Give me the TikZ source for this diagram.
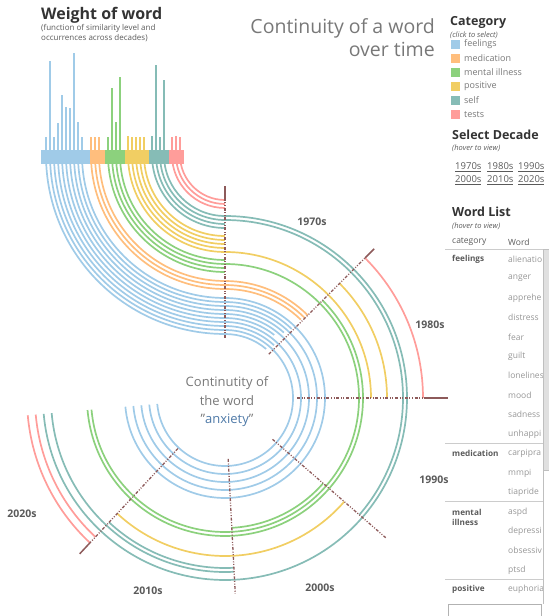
\documentclass[tikz,border=0pt]{standalone}
\usepackage{fontspec}
\setmainfont{Open Sans}
\usetikzlibrary{positioning}

\definecolor{feelc}{RGB}{160,203,232}
\definecolor{medc}{RGB}{255,190,125}
\definecolor{illc}{RGB}{140,209,125}
\definecolor{posc}{RGB}{241,206,99}
\definecolor{selfc}{RGB}{134,188,182}
\definecolor{testc}{RGB}{255,157,154}
\definecolor{decline}{RGB}{141,90,90}
\definecolor{anxc}{RGB}{78,121,167}
\definecolor{txtdark}{RGB}{51,51,51}
\definecolor{txtmid}{RGB}{90,90,90}
\definecolor{txtsoft}{RGB}{120,120,120}
\definecolor{txtfaint}{RGB}{150,150,150}

\begin{document}
\begin{tikzpicture}
	[x=1pt,y=1pt,
	feelline/.style={draw=feelc,line width=1.7pt},
	medline/.style={draw=medc,line width=1.7pt},
	illline/.style={draw=illc,line width=1.7pt},
	posline/.style={draw=posc,line width=1.7pt},
	selfline/.style={draw=selfc,line width=1.7pt},
	testline/.style={draw=testc,line width=1.7pt},
	boundary/.style={draw=decline,line width=1.3pt,dash pattern=on 3pt off 1.6pt on 1pt off 1.6pt on 1pt off 1.6pt},
	boundtip/.style={draw=decline,line width=1.5pt},
	decade/.style={font=\fontsize{10.5}{12}\selectfont\bfseries,text=txtmid},
	heading/.style={anchor=west,inner sep=0pt,font=\fontsize{12.5}{14}\selectfont\bfseries,text=txtdark},
	hint/.style={anchor=west,inner sep=0pt,font=\fontsize{7.5}{8}\selectfont\itshape,text=txtmid},
	legtext/.style={anchor=west,inner sep=0pt,font=\fontsize{9}{10}\selectfont,text=txtsoft},
	declink/.style={anchor=west,inner sep=0pt,font=\fontsize{9.5}{11}\selectfont,text=txtmid},
	cattext/.style={anchor=west,inner sep=0pt,font=\fontsize{8.2}{10}\selectfont\bfseries,text=txtmid},
	wordtext/.style={anchor=west,inner sep=0pt,font=\fontsize{8.5}{10}\selectfont,text=txtfaint},
	tabline/.style={draw=black!20,line width=0.8pt}]

	\useasboundingbox (0,0) rectangle (549,616);
	\coordinate (U) at (225,461);
	\coordinate (C) at (225,218);

	% word lines, bar end -> decades
	\foreach \x/\e in {46/50,50/-175,54/47,58/-175,62/52,66/-175,70/48,74/-175,78/46,82/-175}
		\draw[feelline] (\x,461) arc (180:270:{225-\x}) arc (90:\e:{18+\x});
	\foreach \x/\e in {91/46,95/45,99/45}
		\draw[medline] (\x,461) arc (180:270:{225-\x}) arc (90:\e:{18+\x});
	\foreach \x/\e in {108/90,112/90,116/-175,120/90}
		\draw[illline] (\x,461) arc (180:270:{225-\x}) arc (90:\e:{18+\x});
	\foreach \x/\e in {128/0,132/90,136/90,140/90,144/90}
		\draw[posline] (\x,461) arc (180:270:{225-\x}) arc (90:\e:{18+\x});
	\foreach \x/\e in {152/90,156/90,160/-41,164/-175}
		\draw[selfline] (\x,461) arc (180:270:{225-\x}) arc (90:\e:{18+\x});
	\foreach \x in {172,176,180}
		\draw[testline] (\x,461) arc (180:270:{225-\x});

	\draw[illline] (C) ++(45:138) arc (45:-175:138);
	\draw[illline] (C) ++(-41:130) arc (-41:-87:130);
	\draw[posline] (C) ++(45:162) arc (45:0:162);
	\draw[posline] (C) ++(-41:158) arc (-41:-133:158);
	\draw[selfline] (C) ++(-87:170) arc (-87:-133:170);
	\draw[selfline] (C) ++(-87:174) arc (-87:-175:174);
	\draw[testline] (C) ++(45:198) arc (45:0:198);
	\draw[testline] (C) ++(-133:190) arc (-133:-175:190);
	\draw[testline] (C) ++(-133:198) arc (-133:-175:198);

	% decade boundaries
	\foreach \a/\ri/\rs/\ro in {90/60/200/212,45/62/198/211,0/72/200/223,-41/63/214/214,-87/61/196/196,-133/69/198/213}{
		\draw[boundary] (C) ++(\a:\ri) -- ++(\a:{\rs-\ri});
		\draw[boundtip] (C) ++(\a:\rs) -- ++(\a:{\ro-\rs});
	}

	% weight bars
	\fill[feelc] (41,452) rectangle (90,466);
	\fill[medc] (90,452) rectangle (105,466);
	\fill[illc] (105,452) rectangle (125,466);
	\fill[posc] (125,452) rectangle (149,466);
	\fill[selfc] (149,452) rectangle (169,466);
	\fill[testc] (169,452) rectangle (184,466);
	\foreach \x/\t in {46/137,50/61,54/137,58/123,62/95,66/107,70/108,74/53,78/122,82/137}
		\fill[feelc] ({\x-1.3},466) rectangle ({\x+1.3},{616-\t});
	\foreach \x/\t in {91/137,95/137,99/137}
		\fill[medc] ({\x-1.3},466) rectangle ({\x+1.3},{616-\t});
	\foreach \x/\t in {108/137,112/88,116/122,120/77}
		\fill[illc] ({\x-1.3},466) rectangle ({\x+1.3},{616-\t});
	\foreach \x/\t in {128/136,132/137,136/137,140/137,144/137}
		\fill[posc] ({\x-1.3},466) rectangle ({\x+1.3},{616-\t});
	\foreach \x/\t in {152/136,156/65,160/137,164/80}
		\fill[selfc] ({\x-1.3},466) rectangle ({\x+1.3},{616-\t});
	\foreach \x/\t in {172/137,176/136,180/137}
		\fill[testc] ({\x-1.3},466) rectangle ({\x+1.3},{616-\t});

	% titles
	\node [heading,font=\fontsize{16}{18}\selectfont\bfseries] (wtitle) at (41,601) {Weight of word};
	\node [anchor=west,inner sep=0pt,align=left,font=\fontsize{8}{10}\selectfont,text=txtmid] (wsub) at (41,583) {(function of similarity level and\\occurrences across decades)};
	\node [anchor=east,inner sep=0pt,align=right,font=\fontsize{19.5}{23}\selectfont,text=txtsoft] (maintitle) at (435,578) {Continuity of a word\\over time};
	\node [inner sep=0pt,align=center,font=\fontsize{13}{18.5}\selectfont,text=txtsoft] (centre) at (227,214) {Continutity of\\the word\\”{\color{anxc}anxiety}”};

	% decade labels
	\node [decade] (l1970) at (312,394) {1970s};
	\node [decade] (l1980) at (430,291) {1980s};
	\node [decade] (l1990) at (434,136) {1990s};
	\node [decade] (l2000) at (320,28) {2000s};
	\node [decade] (l2010) at (148,25) {2010s};
	\node [decade] (l2020) at (22,102) {2020s};

	% category legend
	\node [heading] (cathead) at (450,594) {Category};
	\node [hint] (cathint) at (450,581) {(click to select)};
	\foreach \c/\t [count=\i] in {feelc/feelings,medc/medication,illc/mental illness,posc/positive,selfc/self,testc/tests}{
		\fill[\c] (451,{576-14*(\i-1)}) rectangle ++(9,-9);
		\node [legtext] (leg\i) at (464,{571.5-14*(\i-1)}) {\t};
	}

	% decade selector
	\node [heading] (dechead) at (452,481) {Select Decade};
	\node [hint] (dechint) at (452,468) {(hover to view)};
	\node [declink] (d1970) at (455,449) {\underline{1970s}};
	\node [declink] (d1980) at (487,449) {\underline{1980s}};
	\node [declink] (d1990) at (518,449) {\underline{1990s}};
	\node [declink] (d2000) at (455,436) {\underline{2000s}};
	\node [declink] (d2010) at (487,436) {\underline{2010s}};
	\node [declink] (d2020) at (518,436) {\underline{2020s}};

	% word list
	\node [heading] (wlhead) at (452,404) {Word List};
	\node [hint] (wlhint) at (452,390) {(hover to view)};
	\node [legtext,font=\fontsize{8.5}{10}\selectfont,text=txtmid] (colcat) at (452,374) {category};
	\node [legtext,font=\fontsize{8.5}{10}\selectfont,text=txtmid] (colword) at (508,374) {Word};
	\draw[tabline] (445,367) -- (543,367);
	\draw[tabline] (445,173) -- (543,173);
	\draw[tabline] (445,115) -- (543,115);
	\draw[tabline] (445,37) -- (543,37);
	\node [cattext] (cfeel) at (452,357) {feelings};
	\node [cattext] (cmed) at (452,162.5) {medication};
	\node [cattext,align=left] (cill) at (452,98.5) {mental\\illness};
	\node [cattext] (cpos) at (452,26.4) {positive};
	\begin{scope}
		\clip (440,12) rectangle (542,367);
		\foreach \w [count=\i] in {alienatio,anger,apprehe,distress,fear,guilt,lonelines,mood,sadness,unhappi,carpipra,mmpi,tiapride,aspd,depressi,obsessiv,ptsd,euphoria}
			\node [wordtext] (w\i) at (508,{357-19.45*(\i-1)}) {\w};
	\end{scope}
	\draw[black!25,line width=0.8pt] (543,12) -- (543,367);
	\draw[black!25,fill=black!12,line width=0.6pt] (543.5,146) rectangle (549,367);
	\draw[black!30,fill=white,line width=0.8pt] (448,0) rectangle (541,12);
\end{tikzpicture}
\end{document}
